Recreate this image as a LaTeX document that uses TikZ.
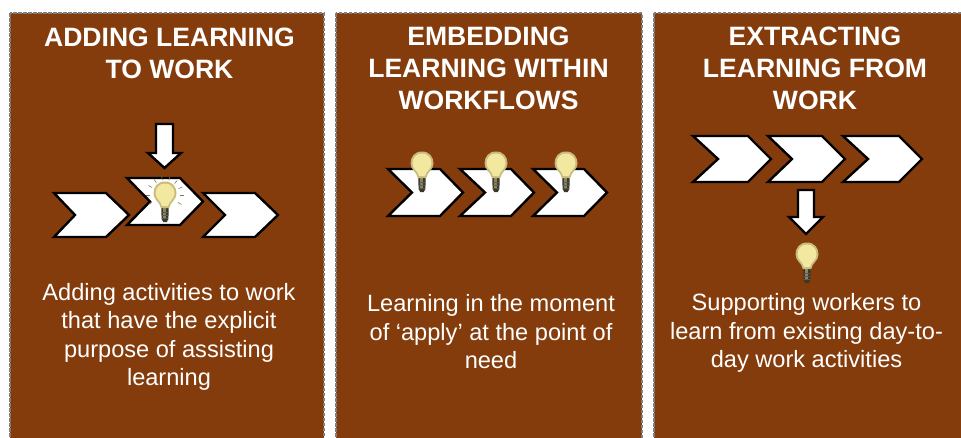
\documentclass[tikz,border=0pt]{standalone}
\usepackage{fontspec}
\setmainfont{Liberation Sans}
\definecolor{panelbrown}{HTML}{843C0C}
\definecolor{bordergray}{HTML}{7F7F7F}
\definecolor{glass}{HTML}{F2E8A0}
\definecolor{glassedge}{HTML}{C9BB80}
\tikzset{
  x=1pt,y=-1pt,
  panel/.style={fill=panelbrown,draw=bordergray,line width=1.5pt,dash pattern=on 3.5pt off 1.5pt},
  shapeline/.style={draw=black,fill=white,line width=2.4pt,miter limit=10},
  titletext/.style={text=white,font=\bfseries\fontsize{26.55}{32}\selectfont,align=center,anchor=center},
  bodytext/.style={text=white,font=\fontsize{23.6}{28.5}\selectfont,align=center,anchor=center},
}
\newcommand{\chev}[6]{% left top tip notch bottom
  \draw[shapeline] (#1,#2) -- (#3-23,#2) -- (#3,#2/2+#5/2) -- (#3-23,#5) -- (#1,#5) -- (#4,#2/2+#5/2) -- cycle;}
\newcommand{\bulb}[2]{%
  \begin{scope}[shift={(#1,#2)}]
    \fill[black!70!glassedge] (-3.8,10) -- (3.8,10) -- (3.4,24) -- (1.8,27) -- (-1.8,27) -- (-3.4,24) -- cycle;
    \fill[glassedge!70!black] (-1.6,12) rectangle (1.2,23);
    \draw[black!65,line width=.6pt] (-3.4,17) -- (3.4,17) (-3.4,20) -- (3.4,20) (-3.4,23) -- (3.4,23);
    \fill[glassedge] (0,-13.5) .. controls (7.5,-13.5) and (11.5,-8) .. (11.5,-1.5) .. controls (11.5,5) and (5,7) .. (4.2,13) -- (-4.2,13) .. controls (-5,7) and (-11.5,5) .. (-11.5,-1.5) .. controls (-11.5,-8) and (-7.5,-13.5) .. (0,-13.5) -- cycle;
    \fill[glass] (0,-11.5) .. controls (6,-11.5) and (9.5,-7) .. (9.5,-1.5) .. controls (9.5,4) and (3.8,6) .. (3,11) -- (-3,11) .. controls (-3.8,6) and (-9.5,4) .. (-9.5,-1.5) .. controls (-9.5,-7) and (-6,-11.5) .. (0,-11.5) -- cycle;
  \end{scope}}
\begin{document}
\begin{tikzpicture}
\useasboundingbox (0,0) rectangle (961,437);
\fill[white] (0,0) rectangle (961,437);
\path[panel] (10,13) rectangle (324,445);
\path[panel] (336,13) rectangle (642,445);
\path[panel] (654,13) rectangle (968,445);

\node[titletext] (t1) at (169.5,53) {ADDING LEARNING\\TO WORK};
\node[titletext] (t2) at (488.5,68.5) {EMBEDDING\\LEARNING WITHIN\\WORKFLOWS};
\node[titletext] (t3) at (815,68.5) {EXTRACTING\\LEARNING FROM\\WORK};

% panel 1
\chev{54}{193}{129}{75}{237}{}
\chev{127}{178}{203}{150}{225}{}
\chev{203}{193}{278}{225}{237}{}
\draw[shapeline] (156,124) -- (173,124) -- (173,153) -- (181,153) -- (164.5,168) -- (148,153) -- (156,153) -- cycle;
\foreach \a in {-30,0,25,50,75,100,125,150,180,210}
  \draw[black!35!glassedge,line width=.6pt] (165,195)++(-\a:15) -- ++(-\a:4);
\bulb{165}{195}

% panel 2
\chev{388}{169}{463}{412}{216}{}
\chev{460}{169}{534}{485}{216}{}
\chev{533}{169}{607}{557}{216}{}
\bulb{422}{165}
\bulb{496}{165}
\bulb{566}{165}

% panel 3
\chev{693}{136}{771}{718}{182}{}
\chev{768}{136}{845}{792}{182}{}
\chev{843}{136}{922}{868}{182}{}
\draw[shapeline] (798,190) -- (814,190) -- (814,217) -- (823,217) -- (806,234) -- (789,217) -- (798,217) -- cycle;
\bulb{807}{256}

\node[bodytext] (b1) at (169,337) {Adding activities to work\\that have the explicit\\purpose of assisting\\learning};
\node[bodytext] (b2) at (491,332) {Learning in the moment\\of ‘apply’ at the point of\\need};
\node[bodytext] (b3) at (806.5,333) {Supporting workers to\\learn from existing day-to-\\day work activities};
\end{tikzpicture}
\end{document}
